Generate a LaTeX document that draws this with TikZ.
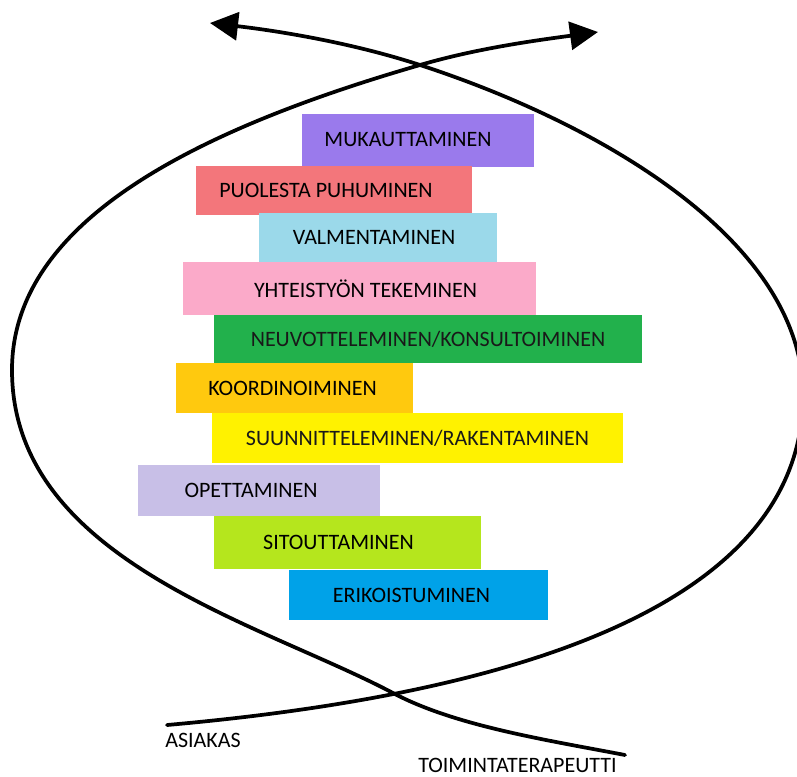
\documentclass[tikz,border=0pt]{standalone}
\usepackage{fontspec}
\setmainfont{Carlito}
\usetikzlibrary{arrows.meta}

\newlength{\pxu}
\setlength{\pxu}{0.75pt}

\definecolor{mukcol}{HTML}{9A7AEC}
\definecolor{puocol}{HTML}{F3767B}
\definecolor{valcol}{HTML}{9BD9EA}
\definecolor{yhtcol}{HTML}{FBAAC9}
\definecolor{neucol}{HTML}{22B14C}
\definecolor{koocol}{HTML}{FFC90E}
\definecolor{suucol}{HTML}{FFF200}
\definecolor{opecol}{HTML}{C8BFE7}
\definecolor{sitcol}{HTML}{B5E61D}
\definecolor{ericol}{HTML}{00A2E8}

\tikzset{
  tag/.style={fill=#1, inner sep=0pt, text=black!90},
  loopline/.style={line width=2.8pt, line cap=round},
  tip/.style={-{Triangle[length=21pt, width=21pt]}},
}

\begin{document}
\begin{tikzpicture}[x=1\pxu, y=-1\pxu, font=\fontsize{16.5pt}{19pt}\selectfont]
      \useasboundingbox (0,0) rectangle (797,776);
      \node[tag=mukcol, minimum width=232\pxu, minimum height=53\pxu,
        label={[xshift=-10\pxu]center:MUKAUTTAMINEN}] (muk) at (418,140) {};
      \node[tag=puocol, minimum width=276\pxu, minimum height=49\pxu,
        label={[xshift=-8\pxu]center:PUOLESTA PUHUMINEN}] (puo) at (334,190.5) {};
      \node[tag=valcol, minimum width=238\pxu, minimum height=49\pxu,
        label={[xshift=-4\pxu]center:VALMENTAMINEN}] (val) at (378,237.5) {};
      \node[tag=yhtcol, minimum width=353\pxu, minimum height=53\pxu,
        label={[xshift=6\pxu]center:YHTEISTYÖN TEKEMINEN}] (yht) at (359.5,288.5) {};
      \node[tag=neucol, minimum width=428\pxu, minimum height=48\pxu]
        (neu) at (428,339) {NEUVOTTELEMINEN/KONSULTOIMINEN};
      \node[tag=koocol, minimum width=237\pxu, minimum height=50\pxu,
        label={[xshift=-2\pxu]center:KOORDINOIMINEN}] (koo) at (294.5,388) {};
      \node[tag=suucol, minimum width=411\pxu, minimum height=50\pxu]
        (suu) at (417.5,438) {SUUNNITTELEMINEN/RAKENTAMINEN};
      \node[tag=opecol, minimum width=242\pxu, minimum height=51\pxu,
        label={[xshift=-8\pxu]center:OPETTAMINEN}] (ope) at (259,490.5) {};
      \node[tag=sitcol, minimum width=267\pxu, minimum height=53\pxu,
        label={[xshift=-9\pxu]center:SITOUTTAMINEN}] (sit) at (347.5,542.5) {};
      \node[tag=ericol, minimum width=259\pxu, minimum height=50\pxu,
        label={[xshift=-7\pxu]center:ERIKOISTUMINEN}] (eri) at (418.5,595) {};

      \coordinate (asiakas) at (167,725);
      \coordinate (terapeutti) at (625,755);
      \coordinate (tipL) at (210,23);
      \coordinate (tipR) at (598,32);
      \node[anchor=base west, inner sep=0pt] (asiakasl) at (165,747) {ASIAKAS};
      \node[anchor=base west, inner sep=0pt] (terapeuttil) at (418,772) {TOIMINTATERAPEUTTI};

      \draw[loopline, tip] (asiakas) .. controls (584,688) and (803,578) .. (803,395)
        .. controls (803,245) and (610,127) .. (420,65)
        .. controls (353,43) and (279,31) .. (tipL);
      \draw[loopline, tip] (terapeutti) .. controls (547,740) and (455,726) .. (393,693)
        .. controls (261,623) and (12,560) .. (12,370)
        .. controls (12,220) and (199,129) .. (420,65)
        .. controls (478,48) and (539,40) .. (tipR);
    \end{tikzpicture}
\end{document}
